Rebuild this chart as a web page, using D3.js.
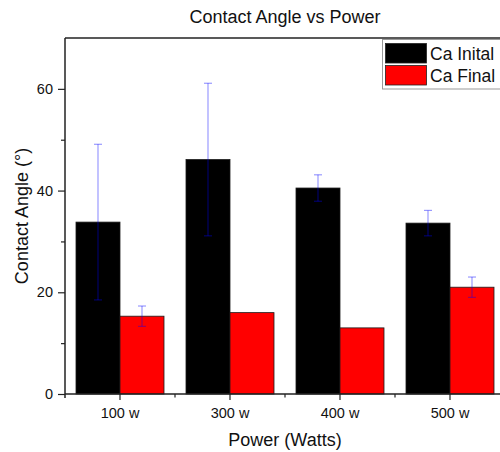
<!DOCTYPE html>
<html>
<head>
<meta charset="utf-8">
<script src="https://cdn.jsdelivr.net/npm/d3@7"></script>
<style>
  body { margin: 0; background: #fff; }
  svg { display: block; font-family: "Liberation Sans", Arial, sans-serif; }
</style>
</head>
<body>
<svg id="chart" width="500" height="452"></svg>
<script>
const categories = ["100 w", "300 w", "400 w", "500 w"];
const seriesNames = ["Ca Inital", "Ca Final"];
const initialValues = [33.8, 46.1, 40.5, 33.6];
const initialErrors = [15.3, 15.0, 2.6, 2.5];
const finalValues = [15.3, 16.0, 13.0, 21.0];
const finalErrors = [2.0, 0, 0, 2.0];
const yMajorTicks = [0, 20, 40, 60];
const yMinorTicks = [10, 30, 50];
const seriesColors = ["#000000", "#ff0000"];

(function () {
const svg = d3.select("#chart");
const pLeft = 65, pRight = 505, pTop = 38, pBottom = 394;

const x0 = d3.scaleBand().domain(categories).range([pLeft, pRight]).paddingInner(0).paddingOuter(0);
const bw = x0.bandwidth();
const x1 = d3.scaleBand().domain(seriesNames).range([bw * 0.1, bw * 0.9]).padding(0);
const y = d3.scaleLinear().domain([0, 70]).range([pBottom, pTop]);

const rows = categories.map((c, i) => ({
  cat: c,
  vals: [
    { s: seriesNames[0], v: initialValues[i], e: initialErrors[i], color: seriesColors[0] },
    { s: seriesNames[1], v: finalValues[i], e: finalErrors[i], color: seriesColors[1] }
  ]
}));

// Bars
const g = svg.append("g");
rows.forEach(r => {
  r.vals.forEach(d => {
    g.append("rect")
      .attr("x", x0(r.cat) + x1(d.s))
      .attr("y", y(d.v))
      .attr("width", x1.bandwidth())
      .attr("height", y(0) - y(d.v))
      .attr("fill", d.color)
      .attr("stroke", "#1a1a1a")
      .attr("stroke-width", 0.8);
  });
});

// Error bars
const eg = svg.append("g").attr("stroke", "rgba(0,0,255,0.4)").attr("stroke-width", 1.2);
rows.forEach(r => {
  r.vals.forEach(d => {
    if (!d.e) return;
    const cx = x0(r.cat) + x1(d.s) + x1.bandwidth() / 2;
    eg.append("line").attr("x1", cx).attr("x2", cx).attr("y1", y(d.v + d.e)).attr("y2", y(d.v - d.e));
    [d.v + d.e, d.v - d.e].forEach(v => {
      eg.append("line").attr("x1", cx - 4).attr("x2", cx + 4).attr("y1", y(v)).attr("y2", y(v));
    });
  });
});

// Frame (top and right)
svg.append("line").attr("x1", pLeft).attr("x2", pRight).attr("y1", pTop).attr("y2", pTop)
  .attr("stroke", "#222").attr("stroke-width", 1.5);
svg.append("line").attr("x1", pRight).attr("x2", pRight).attr("y1", pTop).attr("y2", pBottom)
  .attr("stroke", "#222").attr("stroke-width", 1.5);

// Y axis
const yAxis = svg.append("g").attr("transform", `translate(${pLeft},0)`)
  .call(d3.axisLeft(y).tickValues(yMajorTicks).tickSize(7).tickPadding(5).tickFormat(d3.format("d")));
yAxis.select(".domain").attr("d", `M0,${pTop}V${pBottom + 4}`).attr("stroke", "#222").attr("stroke-width", 1.5);
yAxis.selectAll(".tick line").attr("stroke", "#222").attr("stroke-width", 1.2);
yAxis.selectAll(".tick text").attr("font-size", "14.5px").attr("fill", "#111").attr("font-family", "Liberation Sans, Arial, sans-serif");
const yMinor = svg.append("g").attr("transform", `translate(${pLeft},0)`)
  .call(d3.axisLeft(y).tickValues(yMinorTicks).tickSize(4).tickFormat(""));
yMinor.select(".domain").remove();
yMinor.selectAll(".tick line").attr("stroke", "#222").attr("stroke-width", 1.2);

// X axis
const xAxis = svg.append("g").attr("transform", `translate(0,${pBottom})`)
  .call(d3.axisBottom(x0).tickSize(6).tickPadding(8));
xAxis.select(".domain").attr("d", `M${pLeft},0H${pRight}`).attr("stroke", "#222").attr("stroke-width", 1.5);
xAxis.selectAll(".tick line").attr("stroke", "#222").attr("stroke-width", 1.2);
xAxis.selectAll(".tick text").attr("font-size", "14.5px").attr("fill", "#111").attr("font-family", "Liberation Sans, Arial, sans-serif");
const boundaries = categories.slice(1).map(c => x0(c));
svg.append("g").selectAll("line").data(boundaries).join("line")
  .attr("x1", d => d).attr("x2", d => d).attr("y1", pBottom).attr("y2", pBottom + 3.5)
  .attr("stroke", "#222").attr("stroke-width", 1.2);

// Titles
svg.append("text").attr("x", (pLeft + pRight) / 2).attr("y", 23).attr("text-anchor", "middle")
  .attr("font-size", "18px").attr("fill", "#111").text("Contact Angle vs Power");
svg.append("text").attr("x", (pLeft + pRight) / 2).attr("y", 446).attr("text-anchor", "middle")
  .attr("font-size", "18px").attr("fill", "#111").text("Power (Watts)");
svg.append("text").attr("transform", `translate(28,${(pTop + pBottom) / 2}) rotate(-90)`)
  .attr("text-anchor", "middle").attr("font-size", "18px").attr("fill", "#111").text("Contact Angle (°)");

// Legend
const lg = svg.append("g");
lg.append("rect").attr("x", 382.5).attr("y", 39.5).attr("width", 140).attr("height", 49.5)
  .attr("fill", "#fff").attr("stroke", "#999").attr("stroke-width", 1);
seriesNames.forEach((s, i) => {
  lg.append("rect").attr("x", 385.5).attr("y", 43.5 + i * 22).attr("width", 41).attr("height", 19.5)
    .attr("fill", seriesColors[i]).attr("stroke", "#222").attr("stroke-width", 0.8);
  lg.append("text").attr("x", 430).attr("y", 59.5 + i * 22).attr("font-size", "17.5px").attr("fill", "#111").text(s);
});
})();
</script>
</body>
</html>
